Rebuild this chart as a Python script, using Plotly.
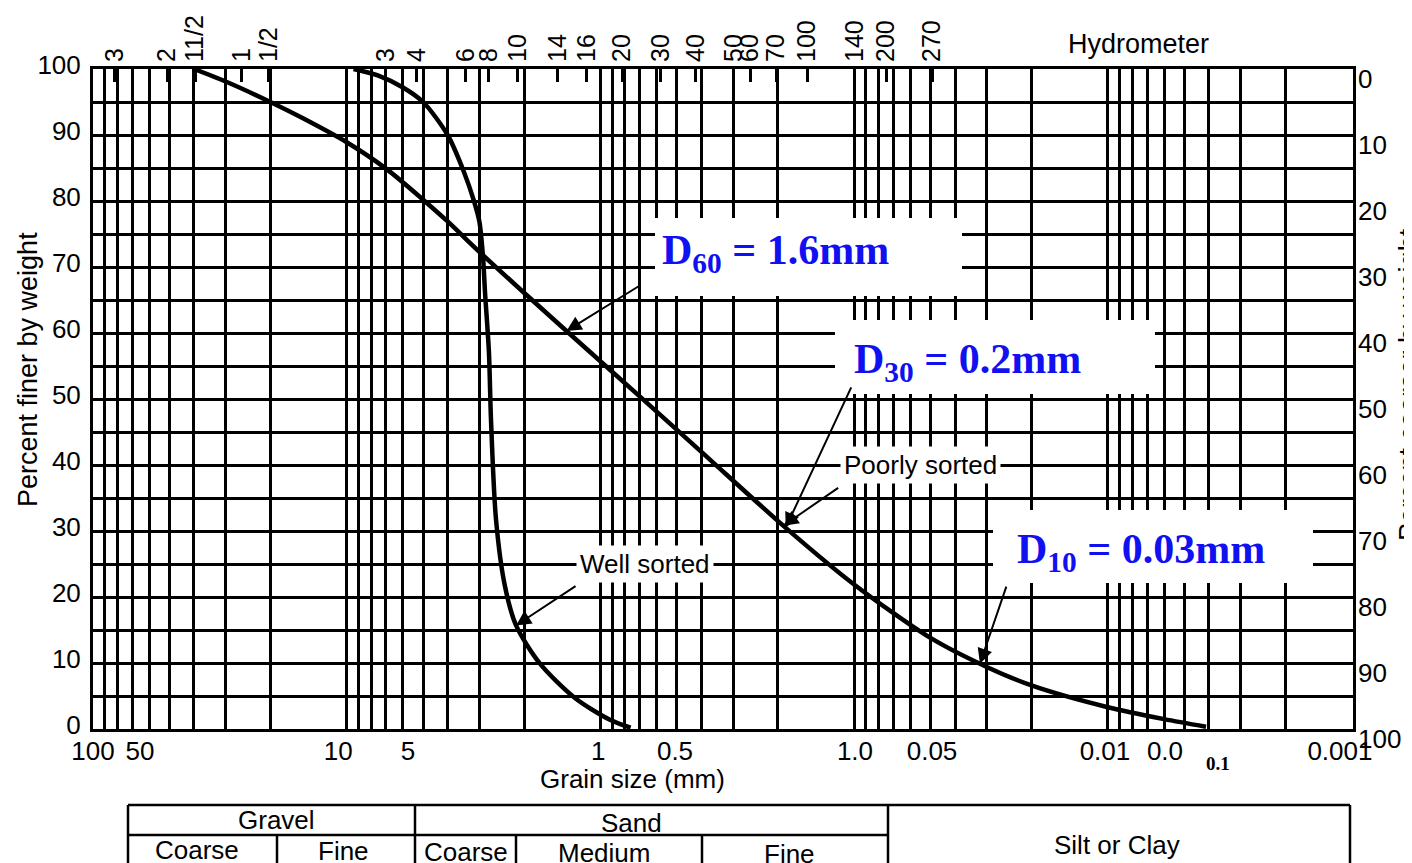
import numpy as np
import plotly.graph_objects as go

# ---------------- data ----------------
poorly_mm = [40, 30, 20, 15, 10, 7, 5, 4, 3, 2, 1.36, 0.70, 0.40, 0.185, 0.1, 0.05, 0.03,
             0.02, 0.01, 0.006, 0.0041]
poorly_pct = [100, 98.1, 95.0, 92.6, 88.9, 84.9, 80.2, 76.9, 72.3, 66.1, 60.3, 50.4, 42.0, 30.4,
              21.9, 13.8, 9.4, 6.6, 3.3, 1.5, 0.35]

well_mm = [9.4, 7.5, 6.0, 5.0, 4.0, 3.45, 3.15, 3.0, 2.9, 2.85, 2.75, 2.70, 2.58, 2.38, 2.15,
           1.73, 1.26, 0.917, 0.76]
well_pct = [100, 99.0, 97.2, 95.0, 90.0, 84.4, 80.0, 76.9, 71.4, 66.2, 57.1, 47.0, 31.8, 21.7,
            15.7, 9.9, 4.7, 1.4, 0.2]

bottom_tick_vals = [100, 65.3, 10.8, 5.73, 1.02, 0.508, 0.0992, 0.0493, 0.01026, 0.00595, 0.001216]
bottom_tick_text = ["100", "50", "10", "5", "1", "0.5", "1.0", "0.05", "0.01", "0.0", "0.001"]
stray_label_text = "0.1"
stray_label_mm = 0.00368

sieve_vals = [82, 51, 39.5, 26, 20.3, 7.0, 5.3, 3.4, 2.75, 2.12, 1.47, 1.13, 0.82, 0.58, 0.42,
              0.298, 0.257, 0.203, 0.153, 0.0995, 0.0748, 0.0492]
sieve_text = ["3", "2", "11/2", "1", "1/2", "3", "4", "6", "8", "10", "14", "16", "20", "30", "40",
              "50", "60", "70", "100", "140", "200", "270"]

finer_ticks = list(range(0, 101, 5))
finer_text = [str(v) if v % 10 == 0 else "" for v in finer_ticks]
coarser_ticks = list(range(0, 101, 10))
coarser_text = [str(100 - v) for v in coarser_ticks]

grid_multipliers = [1, 2, 3, 4, 5, 6, 7, 8, 9]
grid_decades = [0.001, 0.01, 0.1, 1, 10]

arrow_tip_mm = [1.36, 0.186, 0.19, 0.0319, 2.15]
arrow_tip_pct = [60.3, 30.5, 30.8, 9.9, 15.7]
arrow_tail_mm = [0.692, 0.102, 0.114, 0.0250, 1.236]
arrow_tail_pct = [67.3, 52.0, 36.7, 21.8, 21.8]

curve_labels = ["Well sorted", "Poorly sorted"]
curve_label_mm = [0.667, 0.0545]
curve_label_pct = [25, 40]

d_texts = ["<b>D<sub>60</sub> = 1.6mm</b>", "<b>D<sub>30</sub> = 0.2mm</b>", "<b>D<sub>10</sub> = 0.03mm</b>"]

# ---------------- layout geometry (reference pixels) ----------------
PAGE_OFF = 8                  # default body margin of the html page
W, H = 1412 - PAGE_OFF, 863 - PAGE_OFF
L, R = 93, 1353               # plot left / right (page px)
TOPM, BOTM = 61, 743          # margin box (page px)
PT, PB = 69, 729              # plot area top / bottom (page px)
XMAX, XMIN = 100.0, 0.00108

def px_x(px):
    return (px - L) / (R - L)

def px_y(py):
    return (BOTM - py) / (BOTM - TOPM)

grid_mm = [m * d for d in grid_decades for m in grid_multipliers if XMIN <= m * d <= XMAX] + [100]

FONT = "Liberation Sans, Arial, sans-serif"
SERIF = "Liberation Serif, Times New Roman, serif"
BLUE = "#1010f0"
FS = 26

fig = go.Figure()
fig.add_trace(go.Scatter(x=poorly_mm, y=poorly_pct, mode="lines", xaxis="x", yaxis="y",
                         line=dict(color="black", width=4.5, shape="spline", smoothing=0.8),
                         hoverinfo="skip", showlegend=False))
fig.add_trace(go.Scatter(x=well_mm, y=well_pct, mode="lines", xaxis="x", yaxis="y",
                         line=dict(color="black", width=4.5, shape="spline", smoothing=0.8),
                         hoverinfo="skip", showlegend=False))
for ax in ["x2", "x3"]:
    fig.add_trace(go.Scatter(x=[1], y=[50], xaxis=ax, yaxis="y", mode="markers",
                             marker=dict(opacity=0), hoverinfo="skip", showlegend=False))

xr = [np.log10(XMAX), np.log10(XMIN)]
ydom = [px_y(PB), px_y(PT)]

common_x = dict(type="log", range=xr, autorange=False, automargin=False, fixedrange=True)

fig.update_layout(
    width=W, height=H, template="none",
    paper_bgcolor="white", plot_bgcolor="white",
    margin=dict(l=L - PAGE_OFF, r=W - (R - PAGE_OFF), t=TOPM - PAGE_OFF, b=H - (BOTM - PAGE_OFF), pad=0),
    font=dict(family=FONT, size=FS, color="black"),
    showlegend=False,
    xaxis=dict(**common_x, anchor="y", tickvals=grid_mm, showticklabels=False, ticks="",
               showgrid=True, gridcolor="black", gridwidth=2.5,
               showline=True, linecolor="black", linewidth=3, mirror=True, zeroline=False),
    xaxis2=dict(**common_x, anchor="y", overlaying="x", side="top",
                tickvals=sieve_vals, ticktext=sieve_text, tickangle=-90,
                ticks="inside", ticklen=13, tickwidth=2.5, tickcolor="black",
                ticklabelstandoff=6, showgrid=False, showline=False, zeroline=False,
                tickfont=dict(family=FONT, size=25, color="black")),
    xaxis3=dict(**common_x, anchor="y", overlaying="x", side="bottom",
                tickvals=bottom_tick_vals, ticktext=bottom_tick_text, tickangle=0,
                ticks="", ticklabelstandoff=4, showgrid=False, showline=False, zeroline=False,
                tickfont=dict(family=FONT, size=FS, color="black")),
    yaxis=dict(domain=ydom, range=[0, 100], autorange=False, automargin=False, fixedrange=True,
               tickvals=finer_ticks, ticktext=finer_text, ticks="", ticklabelstandoff=4,
               ticklabelshift=-4,
               showgrid=True, gridcolor="black", gridwidth=2.5, zeroline=False,
               showline=True, linecolor="black", linewidth=3, mirror=True,
               tickfont=dict(family=FONT, size=FS, color="black")),
)

ann = []
# right axis labels (percent coarser)
for v, t in zip(coarser_ticks, coarser_text):
    ann.append(dict(xref="paper", yref="y", x=1.0, y=v, text=t, showarrow=False,
                    xanchor="left", yanchor="middle", xshift=3, yshift=-10,
                    font=dict(family=FONT, size=FS, color="black")))

# axis titles and headers
ann.append(dict(xref="paper", yref="paper", x=px_x(28), y=px_y(370), text="Percent finer by weight",
                textangle=-90, showarrow=False, xanchor="center", yanchor="middle",
                font=dict(family=FONT, size=27, color="black")))
ann.append(dict(xref="paper", yref="paper", x=px_x(1409), y=px_y(385), text="Percent coarser by weight",
                textangle=-90, showarrow=False, xanchor="center", yanchor="middle",
                font=dict(family=FONT, size=27, color="black")))
ann.append(dict(xref="paper", yref="paper", x=px_x(632), y=px_y(779), text="Grain size (mm)",
                showarrow=False, xanchor="center", yanchor="middle",
                font=dict(family=FONT, size=26, color="black")))
ann.append(dict(xref="paper", yref="paper", x=px_x(1138), y=px_y(44), text="Hydrometer",
                showarrow=False, xanchor="center", yanchor="middle",
                font=dict(family=FONT, size=27, color="black")))
ann.append(dict(xref="x", yref="paper", x=np.log10(stray_label_mm), y=px_y(763), text="<b>" + stray_label_text + "</b>",
                showarrow=False, xanchor="center", yanchor="middle",
                font=dict(family=SERIF, size=19, color="black")))

# arrows
for tm, tp, am, ap in zip(arrow_tip_mm, arrow_tip_pct, arrow_tail_mm, arrow_tail_pct):
    ann.append(dict(xref="x", yref="y", axref="x", ayref="y",
                    x=np.log10(tm), y=tp, ax=np.log10(am), ay=ap, text="",
                    showarrow=True, arrowhead=2, arrowsize=1.5, arrowwidth=2, arrowcolor="black"))

# curve labels
for t, m, p in zip(curve_labels, curve_label_mm, curve_label_pct):
    ann.append(dict(xref="x", yref="y", x=np.log10(m), y=p, text=t, showarrow=False,
                    bgcolor="white", borderpad=3, xanchor="center", yanchor="middle",
                    font=dict(family=FONT, size=FS, color="black")))

# D-value boxes
d_boxes = [(655, 218, 962, 296), (835, 320, 1155, 394), (993, 510, 1313, 583)]
d_text_pos = [(660, 253), (852, 362), (1015, 552)]
shapes = []
for (x0, y0, x1, y1), (tx, ty), t in zip(d_boxes, d_text_pos, d_texts):
    shapes.append(dict(type="rect", xref="paper", yref="paper", x0=px_x(x0), x1=px_x(x1),
                       y0=px_y(y1), y1=px_y(y0), fillcolor="white", line=dict(width=0), layer="above"))
    ann.append(dict(xref="paper", yref="paper", x=px_x(tx), y=px_y(ty), text=t, showarrow=False,
                    xanchor="left", yanchor="middle", font=dict(family=SERIF, size=42, color=BLUE)))

# classification table below the chart
tbl_lines = [
    (128, 805, 1350, 805), (128, 835, 888, 835),
    (128, 805, 128, 870), (415, 805, 415, 870), (888, 805, 888, 870), (1350, 805, 1350, 870),
    (277, 835, 277, 870), (516, 835, 516, 870), (702, 835, 702, 870),
]
for x0, y0, x1, y1 in tbl_lines:
    shapes.append(dict(type="line", xref="paper", yref="paper", x0=px_x(x0), x1=px_x(x1),
                       y0=px_y(y0), y1=px_y(y1), line=dict(color="black", width=2.5), layer="above"))
tbl_texts = [("Gravel", 276, 820), ("Sand", 631, 823), ("Silt or Clay", 1117, 845),
             ("Coarse", 197, 850), ("Fine", 343, 851), ("Coarse", 466, 852),
             ("Medium", 604, 853), ("Fine", 789, 854)]
for t, x, y in tbl_texts:
    ann.append(dict(xref="paper", yref="paper", x=px_x(x), y=px_y(y), text=t, showarrow=False,
                    xanchor="center", yanchor="middle", font=dict(family=FONT, size=FS, color="black")))

fig.update_layout(annotations=ann, shapes=shapes)
fig.write_html("out.html")
